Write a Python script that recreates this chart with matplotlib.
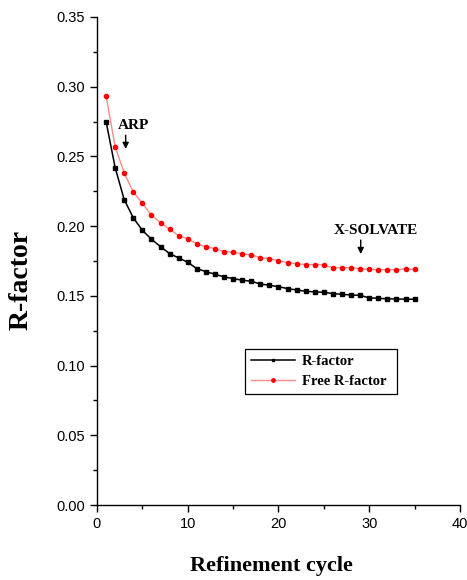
import matplotlib.pyplot as plt
from matplotlib.ticker import MultipleLocator

# Refinement cycles and R values
cycles = list(range(1, 36))
r_factor = [0.275, 0.242, 0.219, 0.206, 0.197, 0.1906, 0.1853, 0.1803, 0.1772, 0.1741,
            0.1695, 0.1674, 0.1655, 0.1636, 0.1624, 0.1612, 0.1605, 0.1585, 0.1576, 0.1566,
            0.1552, 0.1542, 0.1533, 0.1528, 0.1526, 0.1516, 0.1511, 0.1506, 0.1504, 0.1485,
            0.1483, 0.1478, 0.1478, 0.1476, 0.1476]
free_r_factor = [0.2934, 0.257, 0.238, 0.2245, 0.2164, 0.2078, 0.2025, 0.1978, 0.1932, 0.191,
                 0.1872, 0.1853, 0.1839, 0.1817, 0.1813, 0.1801, 0.1793, 0.1774, 0.1767, 0.1753,
                 0.1738, 0.1731, 0.1724, 0.1724, 0.1722, 0.1702, 0.1702, 0.1702, 0.1695, 0.169,
                 0.1688, 0.1688, 0.1688, 0.1693, 0.169]

serif = "Liberation Serif"
sans = "Liberation Sans"

fig = plt.figure(figsize=(4.67, 5.80), dpi=100)
ax = fig.add_axes([0.2077, 0.1293, 0.7773, 0.8414])

ax.plot(cycles, r_factor, color="black", lw=1.1, marker="s", ms=2.4,
        mfc="black", mec="black", label="R-factor")
ax.plot(cycles, free_r_factor, color="#ff8a8a", lw=1.0, marker="o", ms=3.0,
        mfc="red", mec="red", label="Free R-factor")

ax.set_xlim(0, 40)
ax.set_ylim(0, 0.35)
ax.xaxis.set_major_locator(MultipleLocator(10))
ax.xaxis.set_minor_locator(MultipleLocator(5))
ax.yaxis.set_major_locator(MultipleLocator(0.05))
ax.yaxis.set_minor_locator(MultipleLocator(0.025))
ax.yaxis.set_major_formatter(plt.FormatStrFormatter("%.2f"))

for side in ("top", "right"):
    ax.spines[side].set_visible(False)
for side in ("left", "bottom"):
    ax.spines[side].set_linewidth(1.0)
ax.tick_params(which="major", direction="out", length=5, width=1.0, labelsize=10.5)
ax.tick_params(which="minor", direction="out", length=3, width=1.0)
for lbl in ax.get_xticklabels() + ax.get_yticklabels():
    lbl.set_family(sans)

ax.set_xlabel("Refinement cycle", family=serif, weight="bold", fontsize=16, va="center")
ax.set_ylabel("R-factor", family=serif, weight="bold", fontsize=20, va="center")
ax.xaxis.set_label_coords(0.481, -0.125)
ax.yaxis.set_label_coords(-0.209, 0.461)

# annotations for the ARP and X-SOLVATE stages
ax.annotate("", xy=(3.16, 0.2534), xytext=(3.16, 0.2672),
            arrowprops=dict(arrowstyle="-|>", color="black", lw=1.0, mutation_scale=9))
ax.text(4.0, 0.272, "ARP", family=serif, weight="bold", fontsize=11,
        ha="center", va="center")
ax.annotate("", xy=(29.06, 0.178), xytext=(29.06, 0.192),
            arrowprops=dict(arrowstyle="-|>", color="black", lw=1.0, mutation_scale=9))
ax.text(30.73, 0.1967, "X-SOLVATE", family=serif, weight="bold", fontsize=11,
        ha="center", va="center")

leg = ax.legend(loc="lower left", bbox_to_anchor=(0.408, 0.227, 0.418, 0.103),
                mode="expand", fancybox=False, edgecolor="black", framealpha=1,
                borderaxespad=0, handlelength=3.0, handletextpad=0.5, markerscale=0.8,
                prop={"family": serif, "weight": "bold", "size": 10.5})
leg.get_frame().set_linewidth(0.9)

fig.savefig("out.png", dpi=100)
